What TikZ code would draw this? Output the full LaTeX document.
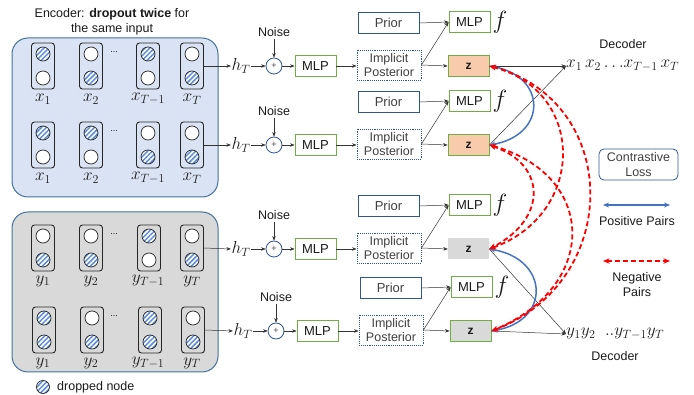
\documentclass[tikz,border=0pt]{standalone}
\usepackage[no-math]{fontspec}
\setmainfont{Liberation Sans}
\usetikzlibrary{arrows.meta,patterns.meta,calc}
\definecolor{encblue}{HTML}{DAE3F3}
\definecolor{encborder}{HTML}{41719C}
\definecolor{graybg}{HTML}{D9D9D9}
\definecolor{mlpgreen}{HTML}{70AD47}
\definecolor{darkblue}{HTML}{2F5597}
\definecolor{peach}{HTML}{F8CBAD}
\definecolor{posblue}{HTML}{4472C4}
\definecolor{hatchblue}{HTML}{5B8BD9}
\definecolor{txt}{HTML}{1A1A1A}
\definecolor{txtgray}{HTML}{404040}
\definecolor{negred}{HTML}{FF0000}
\tikzset{
  sans/.style={font=\fontsize{12.5}{15}\selectfont, inner sep=0pt, text=txt},
  cellbox/.style={draw=black!85, line width=0.9pt, rounded corners=3pt, minimum width=23pt, minimum height=46pt, inner sep=0pt},
  neuron/.style={circle, draw=black!85, line width=0.7pt, fill=white, minimum size=14pt, inner sep=0pt},
  dropn/.style={circle, draw=black!85, line width=0.7pt, minimum size=14pt, inner sep=0pt,
     preaction={fill=white}, pattern={Lines[angle=45,distance=3.4pt,line width=1.5pt]}, pattern color=hatchblue},
  lab/.style={font=\fontsize{18}{18}\selectfont, inner sep=0pt, text=txt},
  dotsn/.style={font=\fontsize{9}{9}\selectfont, inner sep=0pt, text=txt},
  hlab/.style={font=\fontsize{16.5}{16.5}\selectfont, inner sep=0.5pt, text=txt},
  flab/.style={font=\fontsize{24}{24}\selectfont, inner sep=0pt, text=txt},
  mlp/.style={draw=mlpgreen, line width=0.8pt, fill=white, minimum width=41pt, minimum height=21pt, inner sep=0pt, font=\fontsize{13}{15}\selectfont, text=txt},
  priorbox/.style={draw=darkblue, line width=0.8pt, fill=white, minimum width=61pt, minimum height=21pt, inner sep=0pt, font=\fontsize{13}{15}\selectfont, text=txtgray},
  ipbox/.style={draw=darkblue, densely dotted, line width=0.9pt, fill=white, minimum width=64pt, minimum height=30pt, inner sep=0pt, align=center, font=\fontsize{12.5}{14.5}\selectfont, text=txtgray},
  zpeach/.style={fill=peach, draw=mlpgreen, line width=0.8pt, minimum width=41pt, minimum height=21pt, inner sep=0pt, font=\fontsize{12}{12}\selectfont\bfseries, text=txt},
  zgray/.style={fill=graybg, draw=none, minimum width=41pt, minimum height=21pt, inner sep=0pt, font=\fontsize{12}{12}\selectfont\bfseries, text=txt},
  zgrayg/.style={zgray, draw=mlpgreen, line width=0.8pt},
  plusc/.style={circle, draw=darkblue, line width=0.8pt, fill=white, minimum size=16pt, inner sep=0pt, font=\fontsize{9}{9}\selectfont, text=black!70},
  noisen/.style={sans, inner sep=2pt},
  arr/.style={-{Stealth[length=4.5pt,width=3.5pt]}, line width=0.5pt, draw=black!80},
  posarr/.style={{Stealth[length=6pt,width=5pt]}-{Stealth[length=6pt,width=5pt]}, draw=posblue, line width=1.5pt},
  negarr/.style={{Stealth[length=6.5pt,width=5.5pt]}-{Stealth[length=6.5pt,width=5.5pt]}, draw=negred, line width=1.8pt, dash pattern=on 5pt off 3pt},
}
\newcommand\encell[5]{%
  \node[cellbox] (#1) at (#2,#3) {};
  \node[#4] (#1t) at (#2,#3-12) {};
  \node[#5] (#1b) at (#2,#3+12) {};
}
\newcommand\enlabels[3]{%
  \node[lab] (l#1a) at (43,#2+33) {$#3_1$};
  \node[lab] (l#1b) at (91,#2+33) {$#3_2$};
  \node[lab] (l#1c) at (148,#2+33) {$#3_{T-1}$};
  \node[lab] (l#1d) at (192,#2+33) {$#3_T$};
  \node[dotsn] (d#1) at (114,#2-14) {...};
}
\newcommand\midrow[4]{%
  \begin{scope}[xshift=#4pt]
  \node[hlab] (h#1) at (241,#2) {$h_T$};
  \node[noisen] (noise#1) at (274,#2-34) {Noise};
  \node[plusc] (p#1) at (274,#2) {+};
  \node[mlp] (m#1) at (315.5,#2) {MLP};
  \node[ipbox] (ip#1) at (389,#2-1) {Implicit\\Posterior};
  \node[priorbox] (pr#1) at (388.5,#2-43) {Prior};
  \node[mlp] (mf#1) at (469.5,#2-44) {MLP};
  \node[flab] (f#1) at (500,#2-44) {$f$};
  \node[#3] (z#1) at (468.5,#2) {z};
  \end{scope}
  \draw[arr] (c#1d.east) -- (h#1.west);
  \draw[arr] (h#1.east) -- (p#1.west);
  \draw[arr] (noise#1.south) -- (p#1.north);
  \draw[arr] (p#1.east) -- (m#1.west);
  \draw[arr] (m#1.east) -- (m#1.east -| ip#1.west);
  \draw[arr] (pr#1.east) -- (mf#1.west);
  \draw[arr] (ip#1.east) -- (mf#1.west);
  \draw[arr] (ip#1.east) -- (z#1.west);
}
\begin{document}
\begin{tikzpicture}[x=1pt,y=-1pt]
\useasboundingbox (0,0) rectangle (694,395);
% encoder boxes
\node[draw=encborder, fill=encblue, rounded corners=16pt, line width=1pt, minimum width=206pt, minimum height=159pt, inner sep=0pt] (encx) at (115,117.5) {};
\node[draw=encborder, fill=graybg, rounded corners=16pt, line width=1pt, minimum width=206pt, minimum height=160pt, inner sep=0pt] (ency) at (115,292) {};
\node[sans, align=center] (title) at (112,22) {Encoder: \textbf{dropout twice} for\\the same input};
% cells
\encell{c1a}{43}{66}{dropn}{neuron}
\encell{c1b}{91}{66}{neuron}{dropn}
\encell{c1c}{148}{66}{dropn}{neuron}
\encell{c1d}{192}{66}{neuron}{dropn}
\enlabels{1}{66}{x}
\encell{c2a}{43}{145}{dropn}{neuron}
\encell{c2b}{91}{145}{dropn}{neuron}
\encell{c2c}{148}{145}{neuron}{dropn}
\encell{c2d}{192}{145}{neuron}{dropn}
\enlabels{2}{145}{x}
\encell{c3a}{43}{248}{neuron}{dropn}
\encell{c3b}{91}{248}{neuron}{dropn}
\encell{c3c}{149}{248}{dropn}{neuron}
\encell{c3d}{192}{248}{neuron}{dropn}
\enlabels{3}{248}{y}
\encell{c4a}{44}{330}{dropn}{dropn}
\encell{c4b}{92}{330}{neuron}{dropn}
\encell{c4c}{150}{330}{dropn}{dropn}
\encell{c4d}{193}{330}{neuron}{dropn}
\enlabels{4}{330}{y}
% legend dropped node
\node[dropn, minimum size=13pt] (legdrop) at (43,387) {};
\node[sans, anchor=west] (legtxt) at (57,387) {dropped node};
% middle rows
\midrow{1}{66}{zpeach}{0}
\midrow{2}{145}{zpeach}{0}
\midrow{3}{249}{zgray}{0}
\midrow{4}{331}{zgrayg}{2}
% decoders
\node[sans] (dect) at (623,44) {Decoder};
\node[lab, anchor=west] (dx) at (566,66) {$x_1\,x_2\,{\ldots}x_{T-1}\,x_T$};
\node[lab, anchor=west] (dy) at (566,334) {$y_1y_2\;\;{.}{.}y_{T-1}y_T$};
\node[sans] (decb) at (615,356) {Decoder};
\draw[arr] (z1.east) -- (dx.west);
\draw[arr] (z2.east) -- (dx.west);
\draw[arr] (z4.east) -- (dy.west);
\draw[arr] (z3.east) -- (dy.west);
% contrastive loss & legend
\node[draw=darkblue, rounded corners=5pt, line width=0.8pt, minimum width=79pt, minimum height=31pt, align=center, text=txtgray, font=\fontsize{12.5}{14.5}\selectfont, inner sep=0pt] (cl) at (638.5,164.5) {Contrastive\\Loss};
\coordinate (pa) at (603,205);
\coordinate (pb) at (670,205);
\draw[posarr] (pa) -- (pb);
\node[sans] (post) at (637,221) {Positive Pairs};
\coordinate (na) at (603,261);
\coordinate (nb) at (670,261);
\draw[negarr] (na) -- (nb);
\node[sans, align=center] (negt) at (637,285) {Negative\\Pairs};
% pair curves
\draw[posarr] (z1.east) .. controls +(58,10) and +(58,-10) .. (z2.east);
\draw[posarr] (z3.east) .. controls +(60,10) and +(60,-10) .. (z4.east);
\draw[negarr] (z1.east) .. controls +(97,25) and +(97,-35) .. (z3.east);
\draw[negarr] (z1.east) .. controls +(132,35) and +(132,-50) .. (z4.east);
\draw[negarr] (z2.east) .. controls +(58,20) and +(58,-30) .. (z3.east);
\draw[negarr] (z2.east) .. controls +(108,30) and +(108,-45) .. (z4.east);
\end{tikzpicture}
\end{document}
